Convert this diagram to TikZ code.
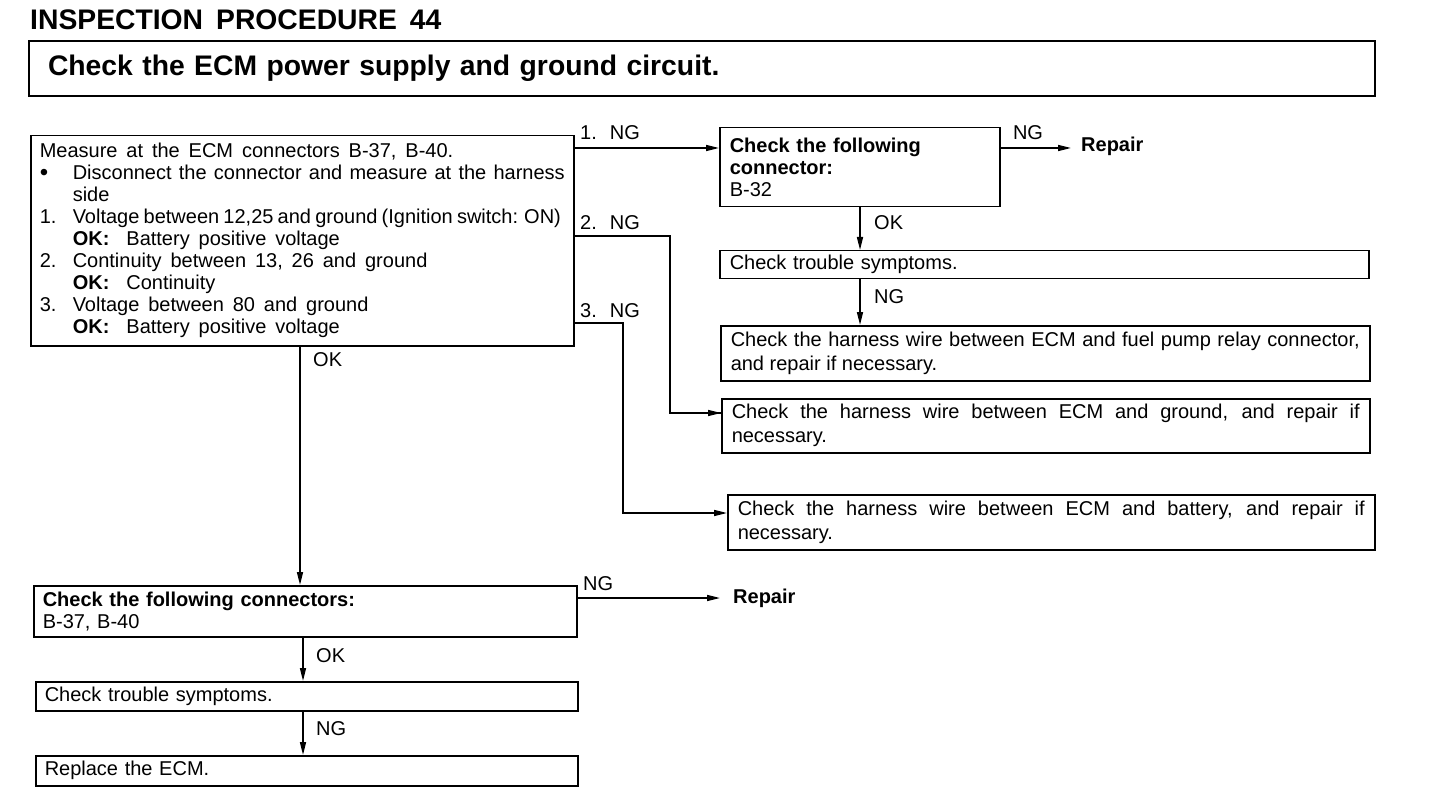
\documentclass[tikz,border=0pt]{standalone}
\usepackage{fontspec}
\setmainfont{Liberation Sans}
\newfontfamily\widefont[WordSpace=1.6]{Liberation Sans}
\usetikzlibrary{arrows.meta}
\newcommand\fs{\widefont\fontsize{20}{22}\selectfont}
\newcommand\fsn{\fontsize{20}{24}\selectfont}
\newcommand\fbig{\bfseries\fontsize{28.3}{32}\selectfont}
\begin{document}
\begin{tikzpicture}[x=1pt,y=-1pt,
  box/.style={draw, line width=1.5pt, anchor=north west, inner ysep=0pt, inner xsep=9pt, font=\fs},
  arr/.style={line width=1.5pt, -{Triangle[length=13pt,width=6pt]}},
  ln/.style={line width=1.5pt},
  lbl/.style={font=\fs, inner sep=0pt, anchor=west}]
\useasboundingbox[fill=white] (0,0) rectangle (1440,810);

% title and header
\node[anchor=base west, inner sep=0pt, font=\fbig] (title) at (30,30)
  {INSPECTION\hspace{13pt}PROCEDURE\hspace{13pt}44};
\node[box, line width=2pt, minimum height=55pt, text width=1308pt, inner xsep=19pt,
  font=\fbig, align=left] (hdr) at (28,40) {Check the ECM power supply and ground circuit.};

% main measurement box
\node[box, text width=525pt, minimum height=210pt, align=justify] (m) at (30,135) {%
Measure at the ECM connectors B-37, B-40.\par
\hangindent=33pt\hangafter=1\noindent\makebox[33pt][l]{\fontsize{24}{22}\selectfont\raisebox{-1pt}{\textbullet}}Disconnect the connector and measure at the harness side\par
\noindent\makebox[33pt][l]{1.}{\spaceskip=4.2pt\relax Voltage between 12,25 and ground (Ignition switch: ON)}\par
\noindent\hspace*{33pt}\textbf{OK:}\hspace{17pt}Battery positive voltage\par
\noindent\makebox[33pt][l]{2.}Continuity between 13, 26 and ground\par
\noindent\hspace*{33pt}\textbf{OK:}\hspace{17pt}Continuity\par
\noindent\makebox[33pt][l]{3.}Voltage between 80 and ground\par
\noindent\hspace*{33pt}\textbf{OK:}\hspace{17pt}Battery positive voltage\par};

% right column
\node[box, text width=260pt, minimum height=79pt, inner xsep=10pt, align=left] (b32) at (719,127)
  {\textbf{Check the following}\\ \textbf{connector:}\\ B-32};
\node[lbl, font=\bfseries\fs] (rep1) at (1081,146) {Repair};
\node[box, text width=629pt, minimum height=28pt, inner xsep=10pt, align=left, font=\fsn] (t1) at (719,250)
  {Check trouble symptoms.};
\node[box, text width=629pt, minimum height=55pt, inner xsep=10pt, align=justify, font=\fsn] (h1) at (720,325)
  {Check the harness wire between ECM and fuel pump relay connector,\linebreak and repair if necessary.};
\node[box, text width=628pt, minimum height=54pt, inner xsep=10pt, align=justify, font=\fsn] (g1) at (721,398)
  {Check the harness wire between ECM and ground, and repair if\linebreak necessary.};
\node[box, text width=627pt, minimum height=55pt, inner xsep=10pt, align=justify, font=\fsn] (bat) at (727,494)
  {Check the harness wire between ECM and battery, and repair if\linebreak necessary.};

% lower column
\node[box, text width=525pt, minimum height=51pt, align=left] (c2) at (33,585)
  {\textbf{Check the following connectors:}\\ B-37, B-40};
\node[lbl, font=\bfseries\fs] (rep2) at (733,598) {Repair};
\node[box, text width=524pt, minimum height=29pt, align=left] (t2) at (35,681)
  {Check trouble symptoms.};
\node[box, text width=524pt, minimum height=30pt, align=left] (r2) at (35,755)
  {Replace the ECM.};

% connectors
\coordinate (s1) at ([yshift=-13pt]m.north east);
\draw[arr] (s1) -- (s1 -| b32.west);
\node[lbl] (l1) at (580,133) {1.\hspace{13pt}NG};

\coordinate (s2) at ([yshift=-101pt]m.north east);
\coordinate (k2) at (670,0);
\draw[ln] (s2) -- (s2 -| k2) |- ([yshift=-15pt]g1.north west) coordinate (e2);
\draw[arr] ([xshift=-1pt]e2) -- (e2);
\node[lbl] (l2) at (580,223) {2.\hspace{13pt}NG};

\coordinate (s3) at ([yshift=-188pt]m.north east);
\coordinate (k3) at (623,0);
\draw[arr] (s3) -- (s3 -| k3) |- ([yshift=-19pt]bat.north west);
\node[lbl] (l3) at (580,311) {3.\hspace{13pt}NG};

\coordinate (s4) at ([yshift=-21pt]b32.north east);
\coordinate (e4) at (1071,0);
\draw[arr] (s4) -- (s4 -| e4);
\node[lbl, anchor=center] (l4) at (1028,133) {NG};

\coordinate (k5) at (860,0);
\draw[arr] (b32.south -| k5) -- (t1.north -| k5);
\node[lbl] (l5) at (874,223) {OK};
\draw[arr] (t1.south -| k5) -- (h1.north -| k5);
\node[lbl] (l6) at (874,297) {NG};

\coordinate (k7) at (300,0);
\draw[arr] (m.south -| k7) -- (c2.north -| k7);
\node[lbl] (l7) at (313,360) {OK};

\coordinate (s8) at ([yshift=-13pt]c2.north east);
\coordinate (e8) at (720,0);
\draw[arr] (s8) -- (s8 -| e8);
\node[lbl] (l8) at (583,584) {NG};

\coordinate (k9) at (303,0);
\draw[arr] (c2.south -| k9) -- (t2.north -| k9);
\node[lbl] (l9) at (316,656) {OK};
\draw[arr] (t2.south -| k9) -- (r2.north -| k9);
\node[lbl] (l10) at (316,729) {NG};
\end{tikzpicture}
\end{document}
